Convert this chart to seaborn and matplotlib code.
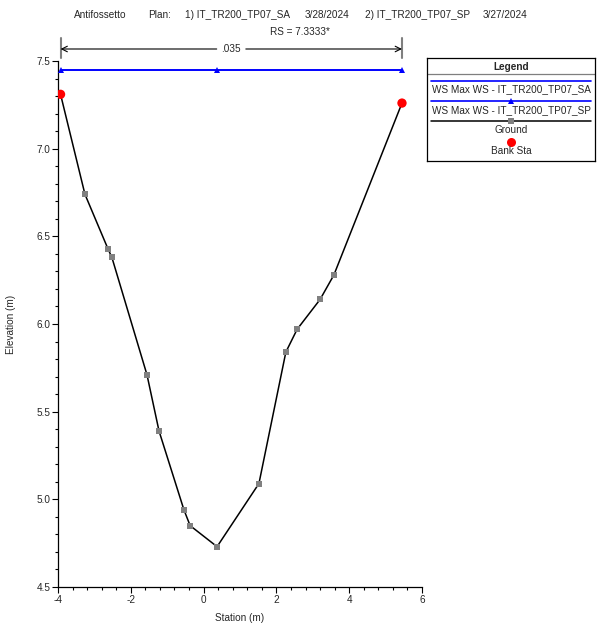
import matplotlib
matplotlib.use("Agg")
import matplotlib.pyplot as plt
from matplotlib.ticker import MultipleLocator
import seaborn as sns
import pandas as pd

# Cross-section ground profile
station = [-3.93, -3.26, -2.63, -2.52, -1.555, -1.225, -0.54, -0.37, 0.37, 1.52, 2.26, 2.57, 3.20, 3.58, 5.45]
elevation = [7.31, 6.74, 6.43, 6.38, 5.71, 5.39, 4.94, 4.85, 4.73, 5.09, 5.84, 5.97, 6.14, 6.28, 7.26]

# Bank stations
bank_station = [-3.93, 5.45]
bank_elev = [7.31, 7.26]

# Max water surface (both plans give the same level)
ws_station = [-3.93, 0.37, 5.45]
ws_sa = [7.45, 7.45, 7.45]
ws_sp = [7.45, 7.45, 7.45]

manning_n = ".035"
title_parts = ["Antifossetto", "Plan:", "1) IT_TR200_TP07_SA", "3/28/2024",
               "2) IT_TR200_TP07_SP", "3/27/2024"]
rs_label = "RS = 7.3333*"
legend_labels = ["WS Max WS - IT_TR200_TP07_SA", "WS Max WS - IT_TR200_TP07_SP",
                 "Ground", "Bank Sta"]

sns.set_style("white")
plt.rcParams["font.family"] = ["Liberation Sans", "DejaVu Sans"]
plt.rcParams["axes.unicode_minus"] = False
FS = 7.2

W, H = 601, 626
fig = plt.figure(figsize=(W / 100, H / 100), dpi=100)

def fx(px):
    return px / W

def fy(py):
    return 1 - py / H

ax = fig.add_axes([fx(58), fy(587), fx(422) - fx(58), fy(61) - fy(587)])

ground = pd.DataFrame({"Station": station, "Elevation": elevation})
ws_df = pd.DataFrame({"Station": ws_station, "SA": ws_sa, "SP": ws_sp})
bank = pd.DataFrame({"Station": bank_station, "Elevation": bank_elev})

sns.lineplot(data=ws_df, x="Station", y="SA", ax=ax, color="#0000ff", lw=1.2,
             estimator=None, sort=False, zorder=3)
sns.lineplot(data=ws_df, x="Station", y="SP", ax=ax, color="#0000ff", lw=1.2,
             marker="^", markersize=4, markeredgewidth=0, estimator=None,
             sort=False, zorder=4)
sns.lineplot(data=ground, x="Station", y="Elevation", ax=ax, color="black", lw=1.1,
             marker="s", markersize=3.8, markerfacecolor="#808080",
             markeredgewidth=0, estimator=None, sort=False, zorder=5)
sns.scatterplot(data=bank, x="Station", y="Elevation", ax=ax, color="#ff0000",
                s=45, edgecolor="none", zorder=6)

ax.set_xlim(-4, 6)
ax.set_ylim(4.5, 7.5)
ax.xaxis.set_major_locator(MultipleLocator(2))
ax.xaxis.set_minor_locator(MultipleLocator(0.4))
ax.yaxis.set_minor_locator(MultipleLocator(0.1))
ax.set_yticks([4.5, 5.0, 5.5, 6.0, 6.5, 7.0, 7.5])
ax.set_yticklabels(["4.5", "5.0", "5.5", "6.0", "6.5", "7.0", "7.5"])
ax.tick_params(which="major", direction="out", length=4, width=0.8, labelsize=FS,
               pad=1.5, color="black", bottom=True, left=True)
ax.tick_params(which="minor", direction="out", length=2.5, width=0.8,
               color="black", bottom=True, left=True)
for s in ("top", "right"):
    ax.spines[s].set_visible(False)
for s in ("left", "bottom"):
    ax.spines[s].set_color("black")
    ax.spines[s].set_linewidth(0.9)
ax.set_xlabel("Station (m)", fontsize=FS, labelpad=6)
ax.set_ylabel("Elevation (m)", fontsize=FS, labelpad=15)

# Roughness dimension line between the bank stations
y_dim = 7.5 + 12 / 175.3
y_top = 7.5 + 23 / 175.3
y_bot = 7.5 + 3 / 175.3
for xb in bank_station:
    ax.plot([xb, xb], [y_bot, y_top], color="#7f7f7f", lw=1.5, clip_on=False)
x_mid = (bank_station[0] + bank_station[1]) / 2
ax.annotate("", xy=(bank_station[0], y_dim), xytext=(x_mid - 0.4, y_dim),
            arrowprops=dict(arrowstyle="->", color="black", lw=0.8,
                            shrinkA=0, shrinkB=0), annotation_clip=False)
ax.annotate("", xy=(bank_station[1], y_dim), xytext=(x_mid + 0.4, y_dim),
            arrowprops=dict(arrowstyle="->", color="black", lw=0.8,
                            shrinkA=0, shrinkB=0), annotation_clip=False)
ax.text(x_mid, y_dim, manning_n, ha="center", va="center", fontsize=FS,
        clip_on=False)

# Header
title_x = [74, 148, 185, 305, 365, 483]
for tx, t in zip(title_x, title_parts):
    fig.text(fx(tx), fy(15), t, ha="left", va="center", fontsize=FS)
fig.text(fx(300), fy(32), rs_label, ha="center", va="center", fontsize=FS)

# Legend box
lg = fig.add_axes([fx(427), fy(161), fx(595) - fx(427), fy(58) - fy(161)])
lg.set_xlim(427, 595)
lg.set_ylim(161, 58)
lg.set_xticks([])
lg.set_yticks([])
for s in lg.spines.values():
    s.set_color("black")
    s.set_linewidth(0.9)
lg.text(511, 66.5, "Legend", ha="center", va="center", fontsize=FS,
        fontweight="bold")
lg.plot([427, 595], [74.5, 74.5], color="#7f7f7f", lw=0.9)
lg.plot([431, 591], [81, 81], color="#0000ff", lw=1.2)
lg.text(511, 89.5, legend_labels[0], ha="center", va="center", fontsize=FS)
lg.plot([431, 591], [101, 101], color="#0000ff", lw=1.2)
lg.plot([511], [101], marker="^", color="#0000ff", markersize=4, markeredgewidth=0)
lg.text(511, 110, legend_labels[1], ha="center", va="center", fontsize=FS)
lg.plot([431, 591], [121, 121], color="black", lw=1.1)
lg.plot([511], [121], marker="s", color="#808080", markersize=3.8, markeredgewidth=0)
lg.text(511, 130, legend_labels[2], ha="center", va="center", fontsize=FS)
lg.plot([511], [142], marker="o", color="#ff0000", markersize=6.5, markeredgewidth=0)
lg.text(511, 151.5, legend_labels[3], ha="center", va="center", fontsize=FS)

fig.savefig("out.png", dpi=100)
